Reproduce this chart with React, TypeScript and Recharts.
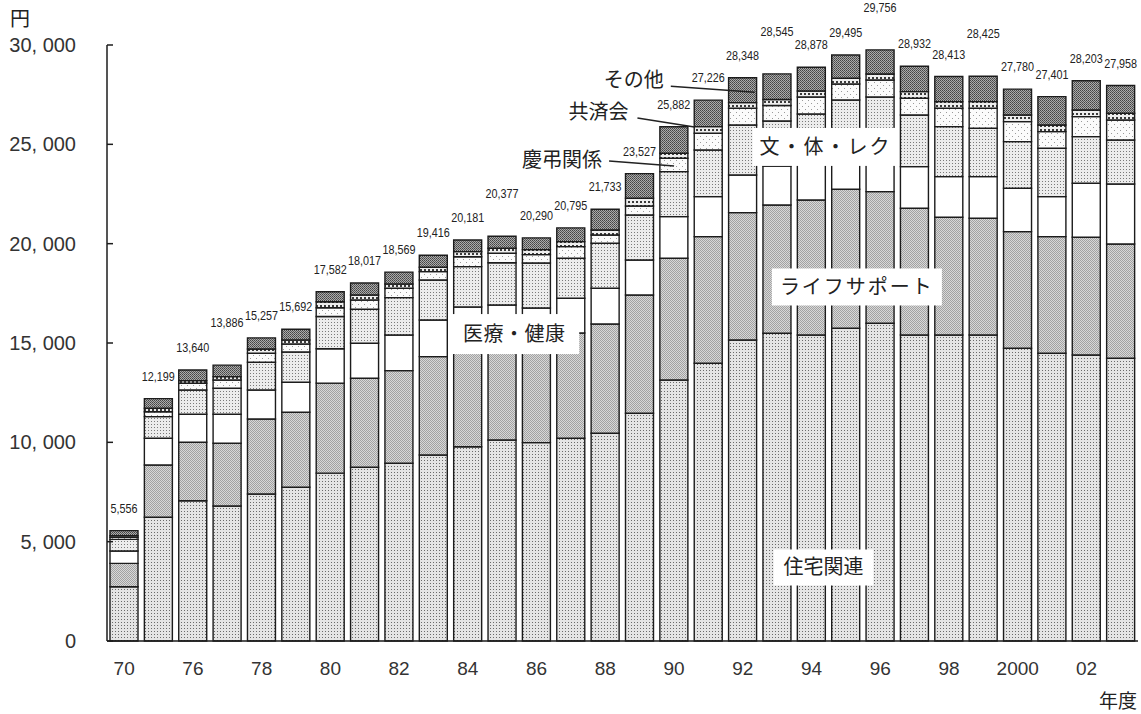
import React from 'react';
import { BarChart, Bar, XAxis, YAxis, LabelList, ReferenceDot } from 'recharts';

const years = ['70','75','76','77','78','79','80','81','82','83','84','85','86','87','88','89','90','91','92','93','94','95','96','97','98','99','2000','01','02','03'];
const yearTickLabels = ['70','','76','','78','','80','','82','','84','','86','','88','','90','','92','','94','','96','','98','','2000','','02',''];

const totals = [5556,12199,13640,13886,15257,15692,17582,18017,18569,19416,20181,20377,20290,20795,21733,23527,25882,27226,28348,28545,28878,29495,29756,28932,28413,28425,27780,27401,28203,27958];

const housing = [2733,6227,7063,6796,7400,7737,8450,8744,8945,9363,9781,10118,9983,10204,10456,11462,13139,13979,15152,15490,15404,15741,15993,15404,15404,15404,14735,14483,14397,14231];
const lifeSupport = [1175,2630,2940,3156,3775,3776,4531,4480,4662,4949,5220,4984,4969,5301,5502,5955,6126,6373,6408,6459,6796,6997,6625,6378,5925,5875,5870,5870,5925,5754];
const medical = [620,1345,1409,1460,1460,1510,1726,1762,1797,1847,1812,1812,1812,1747,1797,1762,2094,2014,1898,1963,1913,1978,1998,2094,2044,2094,2185,2014,2718,3020];
const culture = [589,1090,1223,1309,1394,1526,1627,1712,1878,2014,2029,2129,2265,2014,2265,2265,2265,2351,2517,2265,2416,2517,2769,2603,2517,2436,2346,2436,2346,2215];
const keicho = [100,250,338,418,453,400,437,468,473,418,503,473,418,584,418,453,675,841,841,780,856,805,856,841,926,1007,1007,836,1007,1007];
const kyosai = [80,170,131,166,217,200,302,252,216,221,252,252,252,252,252,388,252,332,282,302,302,287,302,332,332,332,337,337,337,337];
const other = [259,487,536,581,558,543,509,599,598,604,584,609,591,693,1043,1242,1331,1336,1250,1286,1191,1170,1213,1280,1265,1277,1300,1425,1473,1394];

const yTicks = [0, 5000, 10000, 15000, 20000, 25000, 30000];

const data = years.map((y, i) => ({
  year: y,
  housing: housing[i],
  lifeSupport: lifeSupport[i],
  medical: medical[i],
  culture: culture[i],
  keicho: keicho[i],
  kyosai: kyosai[i],
  other: other[i],
}));

// label staggering rule: raise a total label when it sits at nearly the same height as the previous one
const raised: boolean[] = [];
totals.forEach((t, i) => {
  const d = i > 0 ? t - totals[i - 1] : -1;
  raised.push(i > 0 && !raised[i - 1] && d >= 0 && d < 300);
});

const cum = (i: number, upto: number[][], half: number[]) =>
  upto.reduce((s, arr) => s + arr[i], 0) + half[i] / 2;

const NUM_FONT = '"Liberation Sans", Arial, sans-serif';
const JP_FONT = '"Noto Sans CJK JP", "Noto Sans CJK SC", sans-serif';
const STROKE = '#1c1c1c';
const CHART_W = 1141;

const YTick = (props: any) => {
  const { x, y, payload } = props;
  const v = payload.value as number;
  const s = v === 0 ? '0' : v.toLocaleString('en-US').replace(',', ', ');
  return (
    <g>
      <line x1={x} y1={y} x2={x + 6} y2={y} stroke={STROKE} strokeWidth={1.5} />
      <text x={x - 31} y={y} dy={7} textAnchor="end" fontSize={20} fill="#333" fontFamily={NUM_FONT}>{s}</text>
    </g>
  );
};

const XTick = (props: any) => {
  const { x, y, index } = props;
  const s = yearTickLabels[index];
  if (!s) return null;
  return (
    <text x={x} y={y} dy={34} textAnchor="middle" fontSize={19} fill="#333" fontFamily={NUM_FONT}>{s}</text>
  );
};

const TotalLabel = (props: any) => {
  const { x, y, width, index } = props;
  const t = totals[index];
  const s = t.toLocaleString('en-US');
  const digits = s.replace(',', '').length;
  const len = digits * 6 + 3;
  const by = raised[index] ? y - 38 : y - 18;
  const cx = Math.min(x + width / 2, CHART_W - 2 - len / 2);
  return (
    <text x={cx} y={by} textAnchor="middle" fontSize={13} fill="#222" fontFamily={NUM_FONT}
      textLength={len} lengthAdjust="spacingAndGlyphs">{s}</text>
  );
};

const boxLabel = (text: string, w: number, h: number, dx: number, ls: number) => (p: any) => {
  const { cx, cy } = p;
  return (
    <g>
      <rect x={cx + dx - w / 2} y={cy - h / 2} width={w} height={h} fill="#fff" />
      <text x={cx + dx} y={cy} dy={7} textAnchor="middle" fontSize={20} letterSpacing={ls} fill="#222" fontFamily={JP_FONT}>{text}</text>
    </g>
  );
};

const leaderLabel = (text: string, x1: number, y1: number, x2: number, y2: number, tx: number, ty: number) => (p: any) => {
  const { cx, cy } = p;
  return (
    <g>
      <line x1={cx + x1} y1={cy + y1} x2={cx + x2} y2={cy + y2} stroke="#222" strokeWidth={1.5} />
      <text x={cx + tx} y={cy + ty} dy={7} textAnchor="end" fontSize={20} fill="#222" fontFamily={JP_FONT}>{text}</text>
    </g>
  );
};

export default function App() {
  const iKeicho = years.indexOf('90');
  const iKyosai = years.indexOf('91');
  const iOther = years.indexOf('92');
  const keichoY = cum(iKeicho, [housing, lifeSupport, medical, culture], keicho);
  const kyosaiY = cum(iKyosai, [housing, lifeSupport, medical, culture, keicho], kyosai);
  const otherY = cum(iOther, [housing, lifeSupport, medical, culture, keicho, kyosai], other);

  return (
    <div style={{ position: 'absolute', left: 0, top: 0, width: CHART_W, height: 714, background: '#fff' }}>
      <BarChart width={CHART_W} height={714} data={data} margin={{ top: 45, right: 3, bottom: 0, left: 0 }} barSize={28}>
        <defs>
          <pattern id="pHousing" width="3" height="3" patternUnits="userSpaceOnUse">
            <rect width="3" height="3" fill="#e4e4e4" />
            <rect x="1" y="1" width="1" height="1" fill="#6a6a6a" />
          </pattern>
          <pattern id="pLife" width="2" height="2" patternUnits="userSpaceOnUse">
            <rect width="2" height="2" fill="#d8d8d8" />
            <rect x="0" y="0" width="1" height="1" fill="#a2a2a2" />
            <rect x="1" y="1" width="1" height="1" fill="#a2a2a2" />
          </pattern>
          <pattern id="pCulture" width="3" height="3" patternUnits="userSpaceOnUse">
            <rect width="3" height="3" fill="#ececec" />
            <rect x="1" y="1" width="1" height="1" fill="#7a7a7a" />
          </pattern>
          <pattern id="pKeicho" width="6" height="6" patternUnits="userSpaceOnUse">
            <rect width="6" height="6" fill="#fbfbfb" />
            <rect x="1" y="1" width="1" height="1" fill="#9a9a9a" />
            <rect x="4" y="4" width="1" height="1" fill="#9a9a9a" />
          </pattern>
          <pattern id="pKyosai" width="4" height="4" patternUnits="userSpaceOnUse">
            <rect width="4" height="4" fill="#eeeeee" />
            <rect x="0" y="1" width="2" height="2" fill="#3a3a3a" />
          </pattern>
          <pattern id="pOther" width="2" height="2" patternUnits="userSpaceOnUse">
            <rect width="2" height="2" fill="#ababab" />
            <rect x="0" y="0" width="1" height="1" fill="#444" />
            <rect x="1" y="1" width="1" height="1" fill="#5a5a5a" />
          </pattern>
        </defs>
        <XAxis dataKey="year" interval={0} tickLine={false} tickSize={0} tickMargin={0} height={73}
          axisLine={{ stroke: STROKE, strokeWidth: 1.5 }} tick={<XTick />} />
        <YAxis type="number" domain={[0, 30000]} ticks={yTicks} interval={0} width={107} tickLine={false}
          tickSize={0} tickMargin={0} axisLine={{ stroke: STROKE, strokeWidth: 1.5 }} tick={<YTick />} />
        <Bar dataKey="housing" stackId="a" fill="url(#pHousing)" stroke={STROKE} strokeWidth={1.4} isAnimationActive={false} />
        <Bar dataKey="lifeSupport" stackId="a" fill="url(#pLife)" stroke={STROKE} strokeWidth={1.4} isAnimationActive={false} />
        <Bar dataKey="medical" stackId="a" fill="#ffffff" stroke={STROKE} strokeWidth={1.4} isAnimationActive={false} />
        <Bar dataKey="culture" stackId="a" fill="url(#pCulture)" stroke={STROKE} strokeWidth={1.4} isAnimationActive={false} />
        <Bar dataKey="keicho" stackId="a" fill="url(#pKeicho)" stroke={STROKE} strokeWidth={1.4} isAnimationActive={false} />
        <Bar dataKey="kyosai" stackId="a" fill="url(#pKyosai)" stroke={STROKE} strokeWidth={1.4} isAnimationActive={false} />
        <Bar dataKey="other" stackId="a" fill="url(#pOther)" stroke={STROKE} strokeWidth={1.4} isAnimationActive={false}>
          <LabelList dataKey="other" content={<TotalLabel />} />
        </Bar>
        <ReferenceDot x="94" y={3700} shape={boxLabel('住宅関連', 100, 36, 12, 0)} />
        <ReferenceDot x="95" y={17820} shape={boxLabel('ライフサポート', 170, 37, 11, 2)} />
        <ReferenceDot x="85" y={15450} shape={boxLabel('医療・健康', 130, 40, 12, 0.5)} />
        <ReferenceDot x="94" y={24870} shape={boxLabel('文・体・レク', 146, 38, 14, 2)} />
        <ReferenceDot x="90" y={keichoY} shape={leaderLabel('慶弔関係', 0, 1, -65, -4, -72, -5)} />
        <ReferenceDot x="91" y={kyosaiY} shape={leaderLabel('共済会', -14, -3, -71, -12, -80, -18)} />
        <ReferenceDot x="92" y={otherY} shape={leaderLabel('その他', 12, 2, -72, -4, -79, -10)} />
      </BarChart>
      <div style={{ position: 'absolute', left: 10, top: 3, fontSize: 20, color: '#222', fontFamily: JP_FONT }}>円</div>
      <div style={{ position: 'absolute', right: 4, top: 686, fontSize: 19, color: '#222', fontFamily: JP_FONT }}>年度</div>
    </div>
  );
}
